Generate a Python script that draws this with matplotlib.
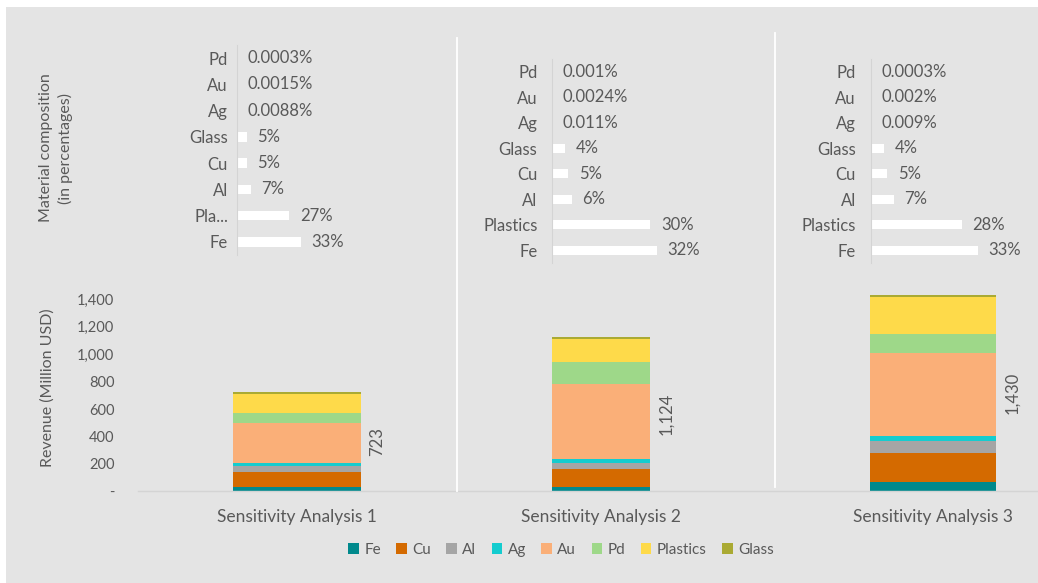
import matplotlib
matplotlib.use('Agg')
import matplotlib.pyplot as plt
from matplotlib.patches import Rectangle, Patch
from matplotlib.lines import Line2D

# ---------------- data ----------------
scenarios = ['Sensitivity Analysis 1', 'Sensitivity Analysis 2', 'Sensitivity Analysis 3']
materials = ['Fe', 'Cu', 'Al', 'Ag', 'Au', 'Pd', 'Plastics', 'Glass']

rev_fe = [34, 34, 65]
rev_cu = [106, 127, 215]
rev_al = [43, 46, 87]
rev_ag = [22, 32, 34]
rev_au = [292, 547, 606]
rev_pd = [72, 154, 140]
rev_plastics = [142, 172, 271]
rev_glass = [12, 12, 12]

comp_cats_1 = ['Pd', 'Au', 'Ag', 'Glass', 'Cu', 'Al', 'Pla...', 'Fe']
comp_cats = ['Pd', 'Au', 'Ag', 'Glass', 'Cu', 'Al', 'Plastics', 'Fe']
comp_1 = [0.0003, 0.0015, 0.0088, 5, 5, 7, 27, 33]
comp_2 = [0.001, 0.0024, 0.011, 4, 5, 6, 30, 32]
comp_3 = [0.0003, 0.002, 0.009, 4, 5, 7, 28, 33]
comp_labels_1 = ['0.0003%', '0.0015%', '0.0088%', '5%', '5%', '7%', '27%', '33%']
comp_labels_2 = ['0.001%', '0.0024%', '0.011%', '4%', '5%', '6%', '30%', '32%']
comp_labels_3 = ['0.0003%', '0.002%', '0.009%', '4%', '5%', '7%', '28%', '33%']

y_ticks = [0, 200, 400, 600, 800, 1000, 1200, 1400]

# ---------------- style ----------------
colors = ['#00898C', '#D46A00', '#A5A5A5', '#14CCCF', '#FAAF78', '#9ED889', '#FEDA4A', '#AAAA33']
TXT = '#595959'
BG = '#e4e4e4'
plt.rcParams['font.family'] = ['Lato', 'DejaVu Sans']
FS_TOP = 12
FS_TICK = 10.5
FS_CAT = 12.5
FS_TITLE = 11.5
FS_LEG = 11

W, H = 1038, 583
fig = plt.figure(figsize=(W / 100, H / 100), dpi=100)
fig.patch.set_facecolor('white')


def fx(x):
    return x / W


def fy(y):
    return 1 - y / H


fig.add_artist(Rectangle((fx(6), 0), 1 - fx(6), fy(7), transform=fig.transFigure,
                         facecolor=BG, edgecolor='none', zorder=-10))

# ---------------- top panels: composition ----------------
top_specs = [
    # axis_x, top, bottom, px per %, right, cats, values, labels, label pad
    (237, 45, 255, 1.94, 440, comp_cats_1, comp_1, comp_labels_1, 6.5),
    (552, 59, 263, 3.28, 760, comp_cats, comp_2, comp_labels_2, 10.5),
    (871, 59, 263, 3.24, 1030, comp_cats, comp_3, comp_labels_3, 11),
]
for ax_x, top, bot, ppp, right, cats, vals, labs, pad in top_specs:
    ax = fig.add_axes([fx(ax_x), fy(bot), fx(right - ax_x), (bot - top) / H])
    ax.patch.set_alpha(0)
    n = len(cats)
    ypos = list(range(n - 1, -1, -1))
    ax.barh(ypos, vals, height=0.36, color='white', edgecolor='none')
    ax.set_ylim(-0.5, n - 0.5)
    ax.set_xlim(0, (right - ax_x) / ppp)
    ax.set_yticks(ypos)
    ax.set_yticklabels(cats, fontsize=FS_TOP, color=TXT)
    ax.tick_params(axis='y', length=0, pad=pad)
    ax.set_xticks([])
    for s in ['top', 'right', 'bottom']:
        ax.spines[s].set_visible(False)
    ax.spines['left'].set_color('#d4d4d4')
    ax.spines['left'].set_linewidth(0.8)
    for yv, v, lab in zip(ypos, vals, labs):
        ax.annotate(lab, xy=(v, yv), xytext=(7.5, 0), textcoords='offset points',
                    ha='left', va='center', fontsize=FS_TOP, color=TXT)

# ---------------- bottom panels: revenue ----------------
series = [rev_fe, rev_cu, rev_al, rev_ag, rev_au, rev_pd, rev_plastics, rev_glass]
base_y = 491.4
ppu = 0.1372
ytop_val = 1600
bot_specs = [
    # x0, x1, bar centre, bar width (px)
    (138, 457, 297, 128),
    (457, 775, 601, 98),
    (775, 1038, 933, 126),
]
for i, (x0, x1, xc, bw) in enumerate(bot_specs):
    ax = fig.add_axes([fx(x0), fy(base_y), fx(x1 - x0), ytop_val * ppu / H])
    ax.patch.set_alpha(0)
    bottom = 0
    for s_vals, c in zip(series, colors):
        ax.bar([0], [s_vals[i]], bottom=bottom, width=bw, color=c, edgecolor='none')
        bottom += s_vals[i]
    total = bottom
    ax.annotate(f'{total:,}', xy=(bw / 2, total / 2), xytext=(6, 0), textcoords='offset points',
                rotation=90, ha='left', va='center', fontsize=FS_TOP, color=TXT)
    ax.set_xlim(x0 - xc, x1 - xc)
    ax.set_ylim(0, ytop_val)
    ax.set_xticks([0])
    ax.set_xticklabels([scenarios[i]], fontsize=FS_CAT, color=TXT)
    ax.tick_params(axis='x', length=0, pad=13)
    for s in ['top', 'right', 'bottom', 'left']:
        ax.spines[s].set_visible(False)
    if i == 0:
        ax.set_yticks(y_ticks)
        ax.set_yticklabels(['-' if t == 0 else f'{t:,}' for t in y_ticks], fontsize=FS_TICK, color=TXT)
        ax.tick_params(axis='y', length=0, pad=17)
    else:
        ax.set_yticks([])

# baseline and separators
fig.add_artist(Line2D([fx(138), 1], [fy(base_y), fy(base_y)], transform=fig.transFigure,
                      color='#d4d4d4', lw=1))
fig.add_artist(Line2D([fx(457), fx(457)], [fy(38), fy(base_y)], transform=fig.transFigure,
                      color='white', lw=1.3))
fig.add_artist(Line2D([fx(775), fx(775)], [fy(33), fy(487)], transform=fig.transFigure,
                      color='white', lw=1.3))

# axis titles
fig.text(fx(56), fy(148), 'Material composition\n(in percentages)', rotation=90,
         ha='center', va='center', fontsize=FS_TITLE, color=TXT, linespacing=1.4)
fig.text(fx(48), fy(388), 'Revenue (Million USD)', rotation=90,
         ha='center', va='center', fontsize=FS_TITLE, color=TXT)

# legend
handles = [Patch(facecolor=c, edgecolor='none', label=m) for m, c in zip(materials, colors)]
fig.legend(handles=handles, loc='center', bbox_to_anchor=(fx(561), fy(550)), ncol=8,
           frameon=False, fontsize=FS_LEG, labelcolor=TXT, handlelength=0.7, handleheight=0.7,
           handletextpad=0.35, columnspacing=1.0)

fig.savefig('out.png', dpi=100, facecolor='white')
